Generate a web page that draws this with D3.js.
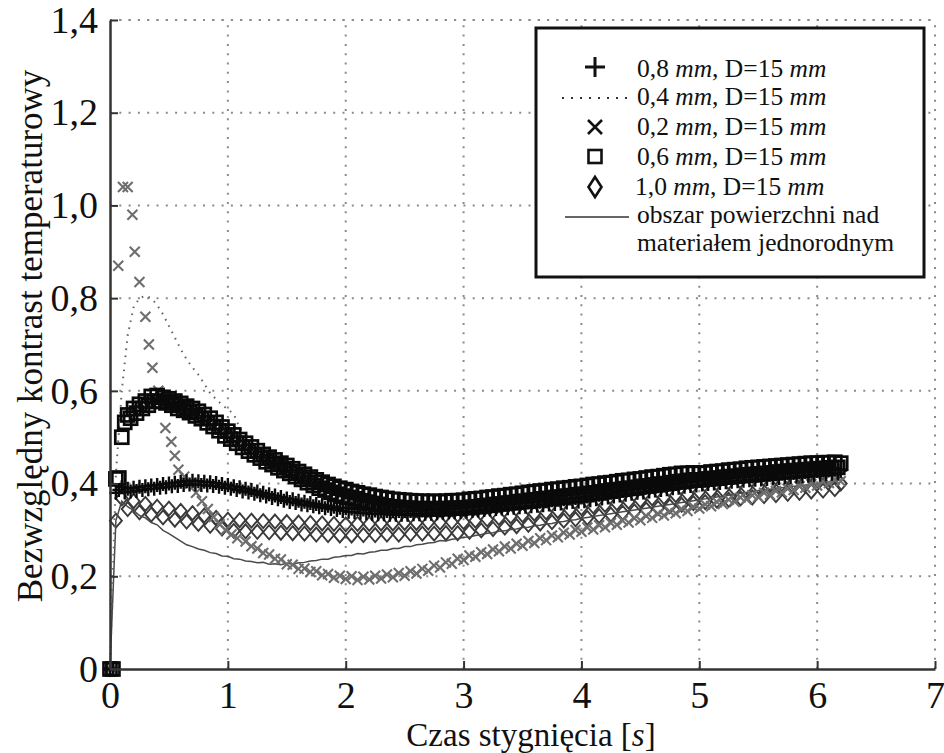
<!DOCTYPE html>
<html><head><meta charset="utf-8">
<script src="https://cdn.jsdelivr.net/npm/d3@7"></script>
<style>
body{margin:0;background:#fff}
svg{display:block}
svg text{font-family:"Liberation Serif","Times New Roman","DejaVu Serif",serif !important;fill:#111}
</style>
</head><body>
<svg id="chart" width="944" height="753"></svg>
<script>
// ---------------- DATA ----------------
const xTicks = [0, 1, 2, 3, 4, 5, 6, 7];
const yTicks = [0, 0.2, 0.4, 0.6, 0.8, 1.0, 1.2, 1.4];
const yTickLabels = ["0", "0,2", "0,4", "0,6", "0,8", "1,0", "1,2", "1,4"];
const xTitle = "Czas stygnięcia [";
const yTitle = "Bezwzględny kontrast temperaturowy";
const legendLabels = ["0,8", "0,4", "0,2", "0,6", "1,0"];

// sample times [s], 0.05 s
const time = [
  0,0.05,0.1,0.15,0.2,0.25,0.3,0.35,0.4,0.45,
  0.5,0.55,0.6,0.65,0.7,0.75,0.8,0.85,0.9,0.95,
  1,1.05,1.1,1.15,1.2,1.25,1.3,1.35,1.4,1.45,
  1.5,1.55,1.6,1.65,1.7,1.75,1.8,1.85,1.9,1.95,
  2,2.05,2.1,2.15,2.2,2.25,2.3,2.35,2.4,2.45,
  2.5,2.55,2.6,2.65,2.7,2.75,2.8,2.85,2.9,2.95,
  3,3.05,3.1,3.15,3.2,3.25,3.3,3.35,3.4,3.45,
  3.5,3.55,3.6,3.65,3.7,3.75,3.8,3.85,3.9,3.95,
  4,4.05,4.1,4.15,4.2,4.25,4.3,4.35,4.4,4.45,
  4.5,4.55,4.6,4.65,4.7,4.75,4.8,4.85,4.9,4.95,
  5,5.05,5.1,5.15,5.2,5.25,5.3,5.35,5.4,5.45,
  5.5,5.55,5.6,5.65,5.7,5.75,5.8,5.85,5.9,5.95,
  6,6.05,6.1,6.15,6.2
];

// finer sample times [s], 0.025 s (dense marker series)
const timeFine = [
  0,0.025,0.05,0.075,0.1,0.125,0.15,0.175,0.2,0.225,0.25,0.275,0.3,0.325,0.35,0.375,0.4,0.425,0.45,0.475,
  0.5,0.525,0.55,0.575,0.6,0.625,0.65,0.675,0.7,0.725,0.75,0.775,0.8,0.825,0.85,0.875,0.9,0.925,0.95,0.975,
  1,1.025,1.05,1.075,1.1,1.125,1.15,1.175,1.2,1.225,1.25,1.275,1.3,1.325,1.35,1.375,1.4,1.425,1.45,1.475,
  1.5,1.525,1.55,1.575,1.6,1.625,1.65,1.675,1.7,1.725,1.75,1.775,1.8,1.825,1.85,1.875,1.9,1.925,1.95,1.975,
  2,2.025,2.05,2.075,2.1,2.125,2.15,2.175,2.2,2.225,2.25,2.275,2.3,2.325,2.35,2.375,2.4,2.425,2.45,2.475,
  2.5,2.525,2.55,2.575,2.6,2.625,2.65,2.675,2.7,2.725,2.75,2.775,2.8,2.825,2.85,2.875,2.9,2.925,2.95,2.975,
  3,3.025,3.05,3.075,3.1,3.125,3.15,3.175,3.2,3.225,3.25,3.275,3.3,3.325,3.35,3.375,3.4,3.425,3.45,3.475,
  3.5,3.525,3.55,3.575,3.6,3.625,3.65,3.675,3.7,3.725,3.75,3.775,3.8,3.825,3.85,3.875,3.9,3.925,3.95,3.975,
  4,4.025,4.05,4.075,4.1,4.125,4.15,4.175,4.2,4.225,4.25,4.275,4.3,4.325,4.35,4.375,4.4,4.425,4.45,4.475,
  4.5,4.525,4.55,4.575,4.6,4.625,4.65,4.675,4.7,4.725,4.75,4.775,4.8,4.825,4.85,4.875,4.9,4.925,4.95,4.975,
  5,5.025,5.05,5.075,5.1,5.125,5.15,5.175,5.2,5.225,5.25,5.275,5.3,5.325,5.35,5.375,5.4,5.425,5.45,5.475,
  5.5,5.525,5.55,5.575,5.6,5.625,5.65,5.675,5.7,5.725,5.75,5.775,5.8,5.825,5.85,5.875,5.9,5.925,5.95,5.975,
  6,6.025,6.05,6.075,6.1,6.125,6.15,6.175,6.2
];

// 0,8 mm (+), on timeFine
const plus08 = [
  0,0,0.38,0.386,0.392,0.381,0.389,0.383,0.391,0.384,0.393,0.386,0.394,0.388,0.396,0.389,0.397,0.391,0.399,0.392,
  0.4,0.394,0.402,0.395,0.404,0.397,0.405,0.398,0.406,0.398,0.405,0.397,0.404,0.396,0.403,0.395,0.401,0.393,0.399,0.391,
  0.397,0.389,0.394,0.386,0.392,0.383,0.389,0.381,0.386,0.378,0.383,0.375,0.38,0.372,0.377,0.369,0.374,0.366,0.371,0.363,
  0.368,0.36,0.366,0.358,0.363,0.355,0.361,0.353,0.358,0.351,0.356,0.349,0.354,0.347,0.352,0.345,0.35,0.343,0.348,0.341,
  0.347,0.339,0.346,0.338,0.345,0.337,0.344,0.336,0.343,0.335,0.342,0.334,0.342,0.334,0.341,0.333,0.341,0.333,0.341,0.333,
  0.341,0.333,0.341,0.334,0.342,0.334,0.342,0.335,0.343,0.335,0.344,0.336,0.344,0.337,0.345,0.338,0.346,0.338,0.347,0.339,
  0.348,0.34,0.349,0.341,0.35,0.342,0.351,0.343,0.352,0.344,0.353,0.345,0.354,0.346,0.355,0.347,0.356,0.348,0.357,0.349,
  0.358,0.35,0.359,0.351,0.36,0.352,0.361,0.353,0.362,0.355,0.364,0.356,0.365,0.357,0.366,0.359,0.368,0.36,0.369,0.361,
  0.37,0.362,0.372,0.364,0.374,0.366,0.376,0.368,0.378,0.37,0.38,0.372,0.382,0.374,0.384,0.376,0.386,0.378,0.388,0.38,
  0.389,0.381,0.391,0.383,0.393,0.385,0.394,0.386,0.396,0.388,0.398,0.39,0.399,0.391,0.401,0.393,0.403,0.395,0.404,0.396,
  0.406,0.398,0.407,0.399,0.408,0.4,0.409,0.401,0.41,0.403,0.412,0.404,0.413,0.405,0.414,0.406,0.415,0.407,0.416,0.408,
  0.417,0.409,0.418,0.41,0.419,0.411,0.42,0.412,0.421,0.413,0.422,0.414,0.423,0.415,0.424,0.416,0.425,0.417,0.426,0.418,
  0.427,0.419,0.428,0.42,0.429,0.421,0.43,0.422,0.428
];

// 0,6 mm (squares), on timeFine
const square06 = [
  0,0,0.41,0.412,0.5,0.532,0.548,0.541,0.562,0.552,0.571,0.562,0.578,0.569,0.588,0.577,0.59,0.578,0.586,0.574,
  0.583,0.569,0.578,0.562,0.573,0.558,0.567,0.553,0.562,0.546,0.556,0.54,0.549,0.531,0.541,0.523,0.532,0.514,0.522,0.503,
  0.513,0.496,0.505,0.487,0.495,0.478,0.487,0.47,0.479,0.462,0.471,0.455,0.463,0.447,0.457,0.441,0.451,0.434,0.444,0.428,
  0.439,0.422,0.432,0.415,0.426,0.409,0.42,0.402,0.414,0.396,0.408,0.39,0.403,0.386,0.398,0.381,0.394,0.377,0.39,0.373,
  0.387,0.37,0.383,0.367,0.38,0.363,0.377,0.36,0.375,0.357,0.372,0.355,0.37,0.352,0.368,0.35,0.366,0.349,0.365,0.348,
  0.364,0.347,0.363,0.346,0.362,0.346,0.362,0.345,0.361,0.346,0.362,0.345,0.361,0.346,0.362,0.346,0.363,0.347,0.363,0.347,
  0.364,0.348,0.366,0.349,0.367,0.35,0.368,0.352,0.37,0.353,0.371,0.355,0.373,0.356,0.374,0.358,0.376,0.359,0.377,0.361,
  0.379,0.362,0.381,0.364,0.382,0.365,0.384,0.367,0.385,0.368,0.387,0.37,0.388,0.371,0.39,0.373,0.391,0.374,0.393,0.376,
  0.394,0.377,0.396,0.379,0.398,0.38,0.399,0.382,0.401,0.384,0.402,0.386,0.404,0.387,0.406,0.389,0.407,0.39,0.409,0.392,
  0.41,0.394,0.412,0.395,0.414,0.397,0.415,0.399,0.417,0.4,0.419,0.402,0.42,0.404,0.422,0.405,0.422,0.407,0.423,0.408,
  0.422,0.408,0.423,0.41,0.425,0.411,0.426,0.412,0.427,0.414,0.429,0.415,0.43,0.416,0.431,0.418,0.433,0.419,0.434,0.42,
  0.435,0.421,0.436,0.422,0.437,0.423,0.438,0.425,0.439,0.426,0.44,0.427,0.441,0.428,0.442,0.429,0.443,0.43,0.444,0.431,
  0.444,0.432,0.445,0.433,0.445,0.434,0.446,0.435,0.444
];

// 0,4 mm (dotted line), on time
const dots04 = [
  0,0.42,0.6,0.72,0.78,0.8,0.805,0.8,0.785,0.765,
  0.74,0.715,0.69,0.668,0.65,0.635,0.615,0.595,0.582,0.57,
  0.56,0.55,0.52,0.5,0.485,0.47,0.46,0.45,0.44,0.432,
  0.425,0.418,0.41,0.402,0.395,0.388,0.382,0.377,0.372,0.368,
  0.364,0.36,0.357,0.354,0.352,0.35,0.349,0.348,0.347,0.346,
  0.345,0.345,0.344,0.344,0.344,0.344,0.345,0.345,0.345,0.346,
  0.346,0.347,0.348,0.349,0.35,0.352,0.353,0.355,0.356,0.358,
  0.36,0.361,0.363,0.364,0.366,0.367,0.369,0.37,0.372,0.373,
  0.375,0.376,0.378,0.379,0.381,0.382,0.384,0.385,0.387,0.388,
  0.39,0.391,0.393,0.394,0.396,0.397,0.399,0.4,0.402,0.403,
  0.405,0.406,0.407,0.409,0.41,0.411,0.413,0.414,0.415,0.417,
  0.418,0.419,0.42,0.422,0.423,0.424,0.425,0.426,0.428,0.429,
  0.43,0.431,0.432,0.434,0.435
];

// 0,2 mm (x) as [time, value]
const cross02 = [
  [0,0],[0.07,0.87],[0.11,1.04],[0.15,1.04],[0.19,0.98],[0.21,0.9],[0.25,0.835],
  [0.3,0.76],[0.33,0.7],[0.36,0.65],[0.41,0.6],[0.47,0.52],[0.52,0.49],[0.55,0.46],
  [0.58,0.43],[0.63,0.415],[0.68,0.4],[0.73,0.38],[0.78,0.362],[0.83,0.345],
  [0.88,0.328],[0.93,0.312],[0.98,0.3],[1.03,0.29],[1.08,0.282],
  [1.15,0.275],[1.2,0.265],[1.25,0.26],[1.3,0.25],[1.35,0.247],[1.4,0.238],[1.45,0.236],
  [1.5,0.226],[1.55,0.225],[1.6,0.216],[1.65,0.217],[1.7,0.209],[1.75,0.211],[1.8,0.202],
  [1.85,0.205],[1.9,0.197],[1.95,0.201],[2,0.194],[2.05,0.2],[2.1,0.192],[2.15,0.199],
  [2.2,0.193],[2.25,0.201],[2.3,0.195],[2.35,0.204],[2.4,0.198],[2.45,0.207],[2.5,0.201],
  [2.55,0.211],[2.6,0.206],[2.65,0.216],[2.7,0.212],[2.75,0.223],[2.8,0.219],[2.85,0.23],
  [2.9,0.227],[2.95,0.238],[3,0.235],[3.05,0.245],[3.1,0.242],[3.15,0.252],[3.2,0.248],
  [3.25,0.258],[3.3,0.254],[3.35,0.264],[3.4,0.26],[3.45,0.27],[3.5,0.266],[3.55,0.276],
  [3.6,0.272],[3.65,0.282],[3.7,0.278],[3.75,0.288],[3.8,0.284],[3.85,0.294],[3.9,0.29],
  [3.95,0.3],[4,0.296],[4.05,0.305],[4.1,0.301],[4.15,0.31],[4.2,0.306],[4.25,0.315],
  [4.3,0.311],[4.35,0.32],[4.4,0.316],[4.45,0.325],[4.5,0.321],[4.55,0.33],[4.6,0.326],
  [4.65,0.335],[4.7,0.331],[4.75,0.34],[4.8,0.336],[4.85,0.345],[4.9,0.341],[4.95,0.35],
  [5,0.346],[5.05,0.355],[5.1,0.351],[5.15,0.36],[5.2,0.356],[5.25,0.365],[5.3,0.361],
  [5.35,0.37],[5.4,0.366],[5.45,0.375],[5.5,0.371],[5.55,0.38],[5.6,0.376],[5.65,0.384],
  [5.7,0.381],[5.75,0.389],[5.8,0.386],[5.85,0.394],[5.9,0.391],[5.95,0.399],[6,0.396],
  [6.05,0.404],[6.1,0.401],[6.15,0.408],[6.2,0.405]
];

// 1,0 mm (diamonds), on time
const diamond10 = [
  0,0.32,0.368,0.345,0.362,0.338,0.356,0.333,0.35,0.327,
  0.346,0.322,0.341,0.318,0.336,0.313,0.331,0.309,0.326,0.303,
  0.322,0.298,0.321,0.297,0.32,0.296,0.319,0.295,0.318,0.294,
  0.317,0.293,0.316,0.292,0.315,0.29,0.314,0.289,0.313,0.288,
  0.312,0.288,0.313,0.289,0.313,0.289,0.314,0.29,0.314,0.29,
  0.315,0.291,0.315,0.292,0.316,0.292,0.316,0.293,0.317,0.293,
  0.317,0.296,0.32,0.299,0.323,0.302,0.326,0.305,0.329,0.308,
  0.332,0.311,0.335,0.314,0.338,0.317,0.341,0.32,0.344,0.323,
  0.347,0.326,0.351,0.33,0.354,0.333,0.358,0.337,0.361,0.34,
  0.364,0.344,0.368,0.347,0.371,0.351,0.375,0.354,0.378,0.358,
  0.382,0.36,0.384,0.363,0.387,0.365,0.389,0.368,0.392,0.37,
  0.394,0.373,0.397,0.375,0.399,0.378,0.402,0.38,0.404,0.383,
  0.407,0.385,0.409,0.388,0.4
];

// surface over homogeneous material (solid line), on time
const solidRef = [
  0,0.32,0.362,0.35,0.342,0.331,0.326,0.316,0.311,0.299,
  0.292,0.284,0.276,0.268,0.264,0.259,0.256,0.251,0.249,0.244,
  0.243,0.238,0.237,0.233,0.232,0.229,0.23,0.226,0.227,0.225,
  0.228,0.226,0.229,0.23,0.233,0.234,0.237,0.237,0.241,0.242,
  0.245,0.245,0.249,0.248,0.252,0.253,0.256,0.256,0.26,0.26,
  0.264,0.264,0.268,0.269,0.272,0.273,0.277,0.276,0.28,0.281,
  0.284,0.285,0.288,0.29,0.293,0.294,0.297,0.298,0.301,0.302,
  0.305,0.306,0.309,0.31,0.313,0.314,0.317,0.318,0.321,0.322,
  0.325,0.327,0.329,0.331,0.333,0.335,0.337,0.339,0.341,0.343,
  0.345,0.347,0.349,0.351,0.353,0.355,0.357,0.359,0.361,0.363,
  0.365,0.367,0.369,0.371,0.373,0.375,0.377,0.379,0.381,0.383,
  0.385,0.386,0.388,0.389,0.391,0.392,0.394,0.395,0.397,0.398,
  0.4,0.402,0.404,0.406,0.408
];

// ---------------- CHART ----------------
const svg = d3.select("#chart");
const m = {left: 110, right: 935, top: 20, bottom: 669};
const x = d3.scaleLinear().domain([0, 7]).range([m.left, m.right]);
const y = d3.scaleLinear().domain([0, 1.4]).range([m.bottom, m.top]);

const pairs = vals => vals.map((v, i) => [time[i], v]);
const pairsFine = vals => vals.map((v, i) => [timeFine[i], v]);

// grid (dotted)
const grid = svg.append("g").attr("stroke", "#8a8a8a").attr("stroke-width", 2)
  .attr("stroke-dasharray", "2,7.3");
grid.selectAll(".gx").data(xTicks.slice(1)).join("line")
  .attr("x1", d => x(d)).attr("x2", d => x(d)).attr("y1", m.bottom).attr("y2", m.top);
grid.selectAll(".gy").data(yTicks.slice(1)).join("line")
  .attr("y1", d => y(d)).attr("y2", d => y(d)).attr("x1", m.left).attr("x2", m.right);

const plotG = svg.append("g");

// diamonds (1,0 mm)
plotG.append("g").selectAll("path").data(pairs(diamond10)).join("path")
  .attr("transform", d => `translate(${x(d[0])},${y(d[1])})`)
  .attr("d", "M0,-7L6,0L0,7L-6,0Z")
  .attr("fill", "none").attr("stroke", "#3a3a3a").attr("stroke-width", 1.9);

// solid line
plotG.append("path").datum(pairs(solidRef))
  .attr("d", d3.line().x(d => x(d[0])).y(d => y(d[1])))
  .attr("fill", "none").attr("stroke", "#4a4a4a").attr("stroke-width", 1.5);

// crosses (0,2 mm)
plotG.append("g").selectAll("path").data(cross02).join("path")
  .attr("transform", d => `translate(${x(d[0])},${y(d[1])})`)
  .attr("d", "M-5,-5L5,5M-5,5L5,-5")
  .attr("fill", "none").attr("stroke", "#6e6e6e").attr("stroke-width", 2.1);

// dotted line (0,4 mm)
plotG.append("path").datum(pairs(dots04))
  .attr("d", d3.line().x(d => x(d[0])).y(d => y(d[1])))
  .attr("fill", "none").attr("stroke", "#666").attr("stroke-width", 2)
  .attr("stroke-dasharray", "1.6,5.5");

// plus (0,8 mm)
plotG.append("g").selectAll("path").data(pairsFine(plus08)).join("path")
  .attr("transform", d => `translate(${x(d[0])},${y(d[1])})`)
  .attr("d", "M-6.5,0H6.5M0,-7V7")
  .attr("fill", "none").attr("stroke", "#0a0a0a").attr("stroke-width", 2.4);

// squares (0,6 mm)
plotG.append("g").selectAll("rect").data(pairsFine(square06)).join("rect")
  .attr("x", d => x(d[0]) - 6.5).attr("y", d => y(d[1]) - 6.5)
  .attr("width", 13).attr("height", 13)
  .attr("fill", "none").attr("stroke", "#0a0a0a").attr("stroke-width", 2.7);

// dotted top border
svg.append("line").attr("x1", m.left).attr("x2", m.right).attr("y1", m.top).attr("y2", m.top)
  .attr("stroke", "#8a8a8a").attr("stroke-width", 2).attr("stroke-dasharray", "2,7.3");

// axes
const xAxis = d3.axisBottom(x).tickValues(xTicks).tickFormat(d3.format("d"))
  .tickSizeInner(-8).tickSizeOuter(0).tickPadding(12);
const gx = svg.append("g").attr("transform", `translate(0,${m.bottom})`).call(xAxis);
gx.select(".domain").attr("stroke", "#333").attr("stroke-width", 2.5);
gx.selectAll(".tick line").attr("stroke", "#333").attr("stroke-width", 2);
gx.selectAll(".tick text").attr("font-size", 38).attr("fill", "#111");

const yAxis = d3.axisLeft(y).tickValues(yTicks).tickFormat((d, i) => yTickLabels[i])
  .tickSizeInner(-8).tickSizeOuter(0).tickPadding(12);
const gy = svg.append("g").attr("transform", `translate(${m.left},0)`).call(yAxis);
gy.select(".domain").attr("stroke", "#333").attr("stroke-width", 2.5);
gy.selectAll(".tick line").attr("stroke", "#333").attr("stroke-width", 2);
gy.selectAll(".tick text").attr("font-size", 38).attr("fill", "#111");

// titles
const xt = svg.append("text").attr("x", 531).attr("y", 746).attr("text-anchor", "middle")
  .attr("font-size", 33);
xt.append("tspan").text(xTitle);
xt.append("tspan").attr("font-style", "italic").text("s");
xt.append("tspan").text("]");

svg.append("text").attr("transform", "translate(42,336) rotate(-90)")
  .attr("text-anchor", "middle").attr("font-size", 35).text(yTitle);

// legend
const lg = svg.append("g");
lg.append("rect").attr("x", 536).attr("y", 28).attr("width", 388).attr("height", 249)
  .attr("fill", "#fff").attr("stroke", "#111").attr("stroke-width", 3);
const rows = [77, 105, 135, 165, 195];
const sx = 595;
lg.append("path").attr("d", `M${sx-10},67H${sx+10}M${sx},57V77`).attr("stroke", "#111").attr("stroke-width", 3);
lg.append("line").attr("x1", 562).attr("x2", 630).attr("y1", 98).attr("y2", 98)
  .attr("stroke", "#333").attr("stroke-width", 2.2).attr("stroke-dasharray", "2,7");
lg.append("path").attr("d", `M${sx-7},120L${sx+7},134M${sx-7},134L${sx+7},120`).attr("stroke", "#111").attr("stroke-width", 2.6);
lg.append("rect").attr("x", sx - 6.5).attr("y", 150).attr("width", 13).attr("height", 13)
  .attr("fill", "none").attr("stroke", "#111").attr("stroke-width", 2.6);
lg.append("path").attr("d", `M${sx},177L${sx+6.5},187L${sx},197L${sx-6.5},187Z`)
  .attr("fill", "none").attr("stroke", "#111").attr("stroke-width", 2.6);
lg.append("line").attr("x1", 565).attr("x2", 629).attr("y1", 217).attr("y2", 217)
  .attr("stroke", "#333").attr("stroke-width", 1.6);

legendLabels.forEach((lab, i) => {
  const t = lg.append("text").attr("x", i === 4 ? 635 : 637).attr("y", rows[i]).attr("font-size", 25.5);
  t.append("tspan").text(lab + " ");
  t.append("tspan").attr("font-style", "italic").text("mm");
  t.append("tspan").text(", D=15 ");
  t.append("tspan").attr("font-style", "italic").text("mm");
});
lg.append("text").attr("x", 637).attr("y", 223).attr("font-size", 25.5).text("obszar powierzchni nad");
lg.append("text").attr("x", 637).attr("y", 251).attr("font-size", 25.5).text("materiałem jednorodnym");
</script>
</body></html>
